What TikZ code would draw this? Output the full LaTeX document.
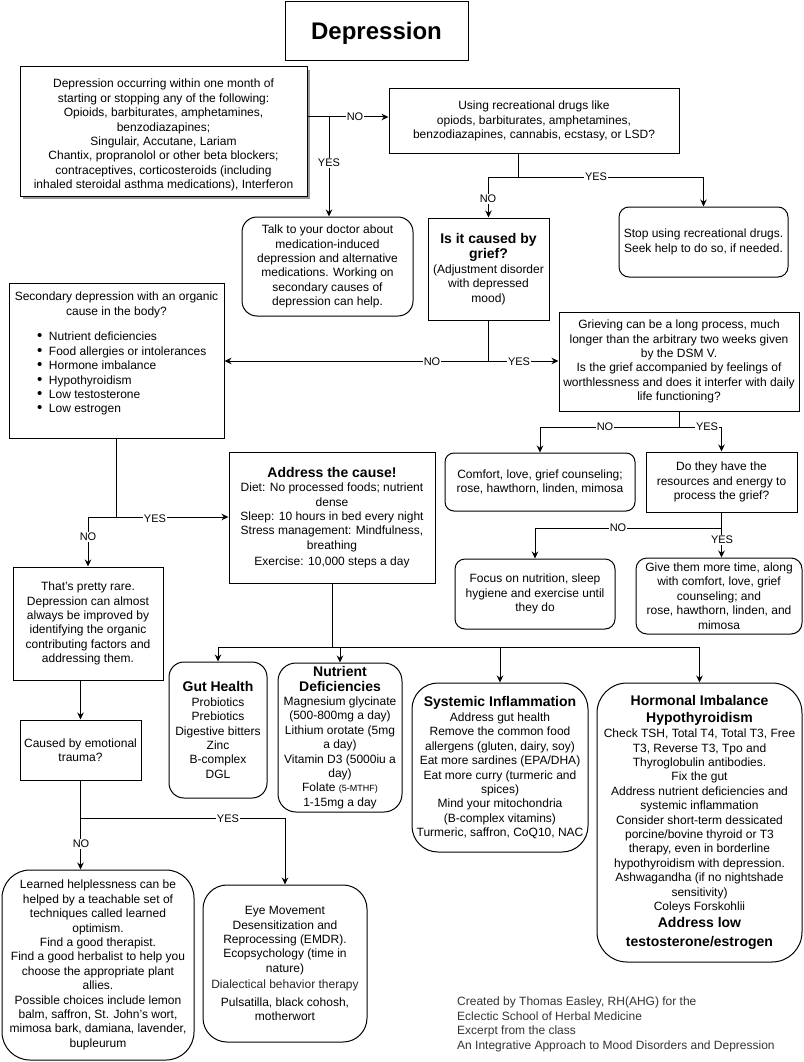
\documentclass[tikz,border=0pt]{standalone}
\usepackage{fontspec}
\setmainfont{Liberation Sans}
\usetikzlibrary{arrows.meta,shadows}
\newcommand{\hd}{\fontsize{14}{16.8}\selectfont\bfseries}
\newcommand{\bul}{{\fontsize{15}{14.4}\selectfont\textbullet}\hspace{6.5pt}}
\tikzset{
  bx/.style={draw, line width=1pt, inner sep=0pt, align=center, font=\fontsize{12}{14.4}\selectfont},
  sq/.style={bx},
  rb/.style={bx, rounded corners=#1},
  ln/.style={line width=1pt},
  arr/.style={line width=1pt, -{Stealth[length=7pt,width=6.5pt]}},
  lbl/.style={fill=white, inner sep=1pt, font=\fontsize{11}{13}\selectfont},
  plain/.style={inner sep=0pt, font=\fontsize{12}{14.4}\selectfont},
}
\begin{document}
\begin{tikzpicture}[x=1pt,y=-1pt]
\useasboundingbox (0,0) rectangle (803,1062);
\fill[white] (0,0) rectangle (803,1062);

% ---------- nodes ----------
\node[sq, minimum width=183pt, minimum height=59pt, font=\fontsize{24}{28}\selectfont\bfseries] (title) at (376.5,31.5) {\rule{0pt}{21pt}Depression};

\node[sq, fill=white, drop shadow={shadow xshift=3pt, shadow yshift=-3pt, opacity=1, fill=black!40},
      minimum width=287pt, minimum height=129pt] (med) at (163.5,131.5)
 {\rule{0pt}{16pt}Depression occurring within one month of\\
  starting or stopping any of the following:\\
  Opioids, barbiturates, amphetamines,\\
  benzodiazapines;\\
  Singulair, Accutane, Lariam\\
  Chantix, propranolol or other beta blockers;\\
  contraceptives, corticosteroids (including\\
  inhaled steroidal asthma medications), Interferon};

\node[sq, minimum width=290pt, minimum height=64pt] (rec) at (534,121)
 {Using recreational drugs like\\
  opiods, barbiturates, amphetamines,\\
  benzodiazapines, cannabis, ecstasy, or LSD?};

\node[rb=15pt, minimum width=171pt, minimum height=99pt] (talk) at (327.5,266.5)
 {Talk to your doctor about\\
  medication-induced\\
  depression and alternative\\
  medications. Working on\\
  secondary causes of\\
  depression can help.};

\node[sq, minimum width=121pt, minimum height=102pt] (grief) at (488.5,269)
 {\hd Is it caused by\\[1pt]
  \hd grief?\\
  (Adjustment disorder\\
  with depressed\\
  mood)};

\node[rb=10pt, minimum width=169pt, minimum height=70pt] (stop) at (703.5,242)
 {Stop using recreational drugs.\\
  Seek help to do so, if needed.};

\node[sq, minimum width=215pt, minimum height=155pt] (sec) at (116.5,360.5) {};
\node[plain, anchor=north, align=center] (sechead) at (116.5,292)
 {Secondary depression with an organic\\ cause in the body?};
\node[plain, anchor=north west, align=left] (seclist) at (37,332)
 {\bul Nutrient deficiencies\\
  \bul Food allergies or intolerances\\
  \bul Hormone imbalance\\
  \bul Hypothyroidism\\
  \bul Low testosterone\\
  \bul Low estrogen};

\node[sq, minimum width=240pt, minimum height=99pt] (grv) at (679,361.5)
 {Grieving can be a long process, much\\
  longer than the arbitrary two weeks given\\
  by the DSM V.\\
  Is the grief accompanied by feelings of\\
  worthlessness and does it interfer with daily\\
  life functioning?};

\node[rb=9pt, minimum width=190pt, minimum height=58pt] (comf) at (540,482)
 {Comfort, love, grief counseling;\\
  rose, hawthorn, linden, mimosa};

\node[sq, minimum width=151pt, minimum height=60pt] (dothey) at (721.5,482)
 {Do they have the\\
  resources and energy to\\
  process the grief?};

\node[rb=10pt, minimum width=160pt, minimum height=70pt] (focus) at (535,594)
 {Focus on nutrition, sleep\\
  hygiene and exercise until\\
  they do};

\node[rb=11pt, minimum width=166pt, minimum height=76pt] (give) at (719,596)
 {Give them more time, along\\
  with comfort, love, grief\\
  counseling; and\\
  rose, hawthorn, linden, and\\
  mimosa};

\node[sq, minimum width=206pt, minimum height=131pt] (addr) at (332,517.5)
 {\hd Address the cause!\\
  Diet: No processed foods; nutrient\\
  dense\\
  Sleep: 10 hours in bed every night\\
  Stress management: Mindfulness,\\
  breathing\\[1.5pt]
  Exercise: 10,000 steps a day};

\node[sq, minimum width=150pt, minimum height=113pt] (rare) at (88,623.5)
 {That's pretty rare.\\
  Depression can almost\\
  always be improved by\\
  identifying the organic\\
  contributing factors and\\
  addressing them.};

\node[sq, minimum width=121pt, minimum height=60pt] (trauma) at (80.5,750)
 {Caused by emotional\\ trauma?};

\node[rb=28pt, minimum width=192pt, minimum height=190pt] (learn) at (98,965)
 {Learned helplessness can be\\
  helped by a teachable set of\\
  techniques called learned\\
  optimism.\\
  Find a good therapist.\\
  Find a good herbalist to help you\\
  choose the appropriate plant\\
  allies.\\
  Possible choices include lemon\\
  balm, saffron, St. John's wort,\\
  mimosa bark, damiana, lavender,\\
  bupleurum};

\node[rb=24pt, minimum width=164pt, minimum height=157pt] (emdr) at (285,963.5)
 {Eye Movement\\
  Desensitization and\\
  Reprocessing (EMDR).\\
  Ecopsychology (time in\\
  nature)\\[2pt]
  \color{black!85}Dialectical behavior therapy\\[3pt]
  Pulsatilla, black cohosh,\\
  motherwort};

\node[rb=15pt, minimum width=98pt, minimum height=136pt] (gut) at (218,730)
 {\hd Gut Health\\
  Probiotics\\
  Prebiotics\\
  Digestive bitters\\
  Zinc\\
  B-complex\\
  DGL};

\node[rb=18pt, minimum width=124pt, minimum height=149pt] (nut) at (340,737.5)
 {\hd Nutrient\\[0.5pt]
  \hd Deficiencies\\
  Magnesium glycinate\\
  (500-800mg a day)\\
  Lithium orotate (5mg\\
  a day)\\
  Vitamin D3 (5000iu a\\
  day)\\
  Folate {\fontsize{9}{10}\selectfont(5-MTHF)}\\
  1-15mg a day};

\node[rb=26pt, minimum width=176pt, minimum height=169pt] (sys) at (500,767.5)
 {\hd Systemic Inflammation\\[1pt]
  Address gut health\\
  Remove the common food\\
  allergens (gluten, dairy, soy)\\
  Eat more sardines (EPA/DHA)\\
  Eat more curry (turmeric and\\
  spices)\\
  Mind your mitochondria\\
  (B-complex vitamins)\\
  Turmeric, saffron, CoQ10, NAC};

\node[rb=30pt, minimum width=205pt, minimum height=279pt] (horm) at (699.5,822.5)
 {\hd Hormonal Imbalance\\[2pt]
  \hd Hypothyroidism\\[1pt]
  Check TSH, Total T4, Total T3, Free\\
  T3, Reverse T3, Tpo and\\
  Thyroglobulin antibodies.\\
  Fix the gut\\
  Address nutrient deficiencies and\\
  systemic inflammation\\
  Consider short-term dessicated\\
  porcine/bovine thyroid or T3\\
  therapy, even in borderline\\
  hypothyroidism with depression.\\
  Ashwagandha (if no nightshade\\
  sensitivity)\\
  Coleys Forskohlii\\[3pt]
  \hd Address low\\[4pt]
  \hd testosterone/estrogen};

\node[plain, anchor=north west, align=left, text=black!80] (credit) at (457,997)
 {Created by Thomas Easley, RH(AHG) for the\\
  Eclectic School of Herbal Medicine\\
  Excerpt from the class\\
  An Integrative Approach to Mood Disorders and Depression};

% ---------- connectors ----------
\coordinate (j1) at (329,117);
\draw[ln] (med.east |- j1) -- (j1);
\draw[arr] (j1) -- (j1 -| rec.west);
\draw[arr] (j1) -- (j1 |- talk.north);
\node[lbl] (l1) at (355,117) {NO};
\node[lbl] (l2) at (329,163) {YES};

\coordinate (j2) at (518,177);
\draw[ln] (j2 |- rec.south) -- (j2);
\draw[arr] (j2) -| (grief.north);
\draw[arr] (j2) -| (stop.north);
\node[lbl] (l3) at (488,199) {NO};
\node[lbl] (l4) at (596,177) {YES};

\coordinate (j3) at (488.5,361);
\draw[ln] (grief.south) -- (j3);
\draw[arr] (j3) -- (j3 -| sec.east);
\draw[arr] (j3) -- (j3 -| grv.west);
\node[lbl] (l5) at (432,362) {NO};
\node[lbl] (l6) at (519,362) {YES};

\coordinate (j4) at (679,427);
\draw[ln] (grv.south) -- (j4);
\draw[arr] (j4) -| (comf.north);
\draw[arr] (j4) -| (dothey.north);
\node[lbl] (l7) at (605,427) {NO};
\node[lbl] (l8) at (707,427) {YES};

\coordinate (j5) at (721.5,528);
\draw[ln] (dothey.south) -- (j5);
\draw[arr] (j5) -| (focus.north);
\draw[arr] (j5) -- (j5 |- give.north);
\node[lbl] (l9) at (618,528) {NO};
\node[lbl] (l10) at (722,540) {YES};

\coordinate (j6) at (116.5,517);
\draw[ln] (sec.south) -- (j6);
\draw[arr] (j6) -- (j6 -| addr.west);
\draw[arr] (j6) -| (rare.north);
\node[lbl] (l11) at (155,519) {YES};
\node[lbl] (l12) at (88,537) {NO};

\draw[arr] (rare.south -| trauma.north) -- (trauma.north);

\coordinate (j8) at (80.5,818);
\draw[ln] (trauma.south) -- (j8);
\draw[arr] (j8) -- (j8 |- learn.north);
\draw[arr] (j8) -| (emdr.north);
\node[lbl] (l13) at (81,844) {NO};
\node[lbl] (l14) at (228,819) {YES};

\coordinate (j9) at (332,647);
\draw[ln] (addr.south) -- (j9);
\draw[arr] (j9) -| (gut.north);
\draw[arr] (j9) -| (nut.north);
\draw[arr] (j9) -| (sys.north);
\draw[arr] (j9) -| (horm.north);
\end{tikzpicture}
\end{document}
